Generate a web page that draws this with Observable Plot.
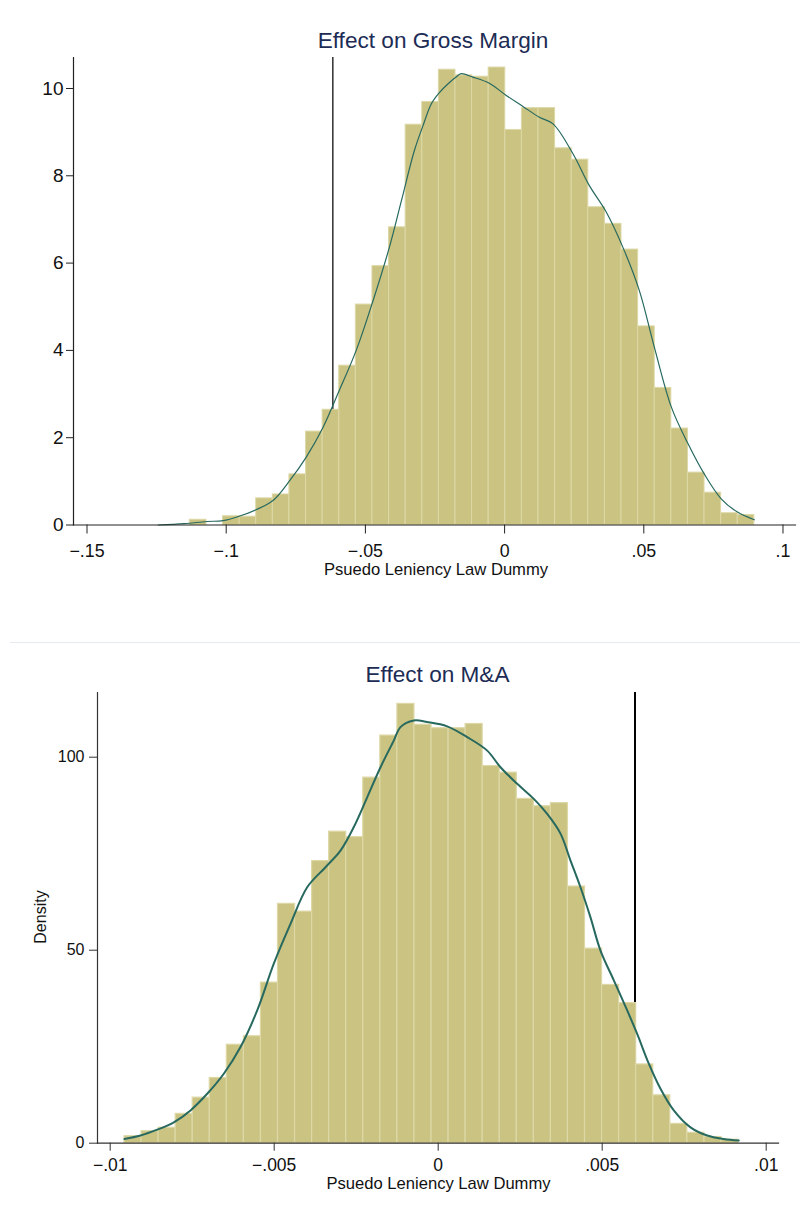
<!DOCTYPE html>
<html>
<head>
<meta charset="utf-8">
<script src="https://cdn.jsdelivr.net/npm/d3@7"></script>
<script src="https://cdn.jsdelivr.net/npm/@observablehq/plot@0.6"></script>
<style>
  html, body { margin: 0; padding: 0; background: #fff; }
  body { width: 800px; height: 1212px; position: relative; overflow: hidden;
         font-family: "Liberation Sans", Arial, sans-serif; }
  .abs { position: absolute; }
  .title { font-size: 22.6px; line-height: 22px; color: #1c2c55; white-space: nowrap; transform: translateX(-50%); }
  .xlab { font-size: 16.6px; line-height: 12px; color: #111; white-space: nowrap; transform: translateX(-50%); }
  .ylab { font-size: 16px; line-height: 16px; color: #111; white-space: nowrap; }
  .frame2 { border-top: 1px solid #e4ebee; }
</style>
</head>
<body>
<div id="p1" class="abs" style="left:0;top:0"></div>
<div id="p2" class="abs" style="left:0;top:600px"></div>
<div class="abs frame2" style="left:10px;top:642px;width:790px;height:0"></div>
<div class="abs title" style="left:433px;top:30px">Effect on Gross Margin</div>
<div class="abs xlab" style="left:436px;top:563.5px">Psuedo Leniency Law Dummy</div>
<div class="abs title" style="left:437.5px;top:664px">Effect on M&amp;A</div>
<div class="abs xlab" style="left:438.5px;top:1177.5px">Psuedo Leniency Law Dummy</div>
<div class="abs" style="left:41px;top:917px;width:0;height:0">
  <div class="ylab" style="position:absolute;left:0;top:0;transform:translate(-50%,-50%) rotate(-90deg)">Density</div>
</div>
<script>
// ---------- Panel 1: Effect on Gross Margin ----------
const gmBinStart = -0.11307;
const gmBinWidth = 0.005964;
const gmHeights = [0.12, 0, 0.2, 0.19, 0.61, 0.70, 1.16, 2.14, 2.64, 3.65, 5.05, 5.93, 6.82,
  9.17, 9.69, 10.43, 10.30, 10.27, 10.48, 9.05, 9.55, 9.55, 8.63, 8.37, 7.28, 6.90, 6.31,
  4.55, 3.14, 2.21, 1.20, 0.74, 0.27, 0.23];
const gmCurveX = [-0.1244, -0.1151, -0.1069, -0.1011, -0.0954, -0.0893, -0.0832, -0.0774,
  -0.0713, -0.0652, -0.0594, -0.0533, -0.0472, -0.0414, -0.0371, -0.0324, -0.0293, -0.0263,
  -0.0235, -0.0203, -0.0173, -0.0156, -0.0114, -0.0055, 0.0006, 0.0066, 0.0125, 0.0174,
  0.0246, 0.0304, 0.0365, 0.0425, 0.0484, 0.0538, 0.0599, 0.0659, 0.0717, 0.0778, 0.0838, 0.0897];
const gmCurveY = [0, 0.03, 0.08, 0.1, 0.2, 0.35, 0.56, 1.0, 1.55, 2.24, 3.08, 4.0, 5.15, 6.36,
  7.42, 8.58, 9.15, 9.65, 9.9, 10.11, 10.27, 10.34, 10.26, 10.12, 9.84, 9.59, 9.34, 9.19,
  8.5, 7.78, 7.17, 6.36, 5.37, 4.07, 2.7, 1.86, 1.17, 0.6, 0.29, 0.12];
const gmLine = -0.0617;
const gmXTicks = [-0.15, -0.1, -0.05, 0, 0.05, 0.1];
const gmYTicks = [0, 2, 4, 6, 8, 10];

// ---------- Panel 2: Effect on M&A ----------
const maBinStart = -0.009564;
const maBinWidth = 0.00052;
const maHeights = [1.8, 3.1, 4.0, 7.6, 11.8, 16.9, 25.5, 27.7, 41.6, 62.0, 60.0, 73.1, 80.7,
  79.3, 94.7, 105.6, 113.8, 108.4, 107.5, 107.5, 108.6, 97.7, 96.0, 89.2, 87.3, 88.1, 66.5,
  50.4, 41.0, 36.3, 20.4, 12.4, 5.0, 2.7, 1.6, 0.9];
const maCurveX = [-0.009564, -0.009076, -0.008567, -0.008061, -0.007552, -0.007043, -0.006537,
  -0.006027, -0.005518, -0.005012, -0.004503, -0.003994, -0.003436, -0.002979, -0.002573,
  -0.002165, -0.001759, -0.001354, -0.001149, -0.000744, -0.000335, 0.000274, 0.000884,
  0.001494, 0.001899, 0.002409, 0.002915, 0.003323, 0.003729, 0.004034, 0.004338, 0.004643,
  0.004948, 0.005354, 0.005762, 0.006067, 0.006421, 0.006777, 0.007183, 0.007692, 0.008201,
  0.008707, 0.009165];
const maCurveY = [1.1, 2.0, 3.5, 5.4, 8.5, 12.8, 18.0, 24.9, 34.4, 46.5, 56.8, 66.3, 71.5, 75.8,
  81.9, 89.6, 97.4, 104.3, 107.8, 109.5, 109.1, 108.0, 105.2, 101.7, 97.4, 93.1, 89.2, 85.3,
  80.2, 73.2, 66.3, 58.5, 49.9, 42.2, 34.4, 28.3, 20.6, 14.1, 8.5, 4.1, 2.0, 1.1, 0.7];
const maLine = 0.006;
const maXTicks = [-0.01, -0.005, 0, 0.005, 0.01];
const maYTicks = [0, 50, 100];

// ---------- helpers ----------
const stataFmt = d => d === 0 ? "0" :
  String(+d.toFixed(4)).replace(/^-0\./, "\u2212.").replace(/^0\./, ".");
const bins = (start, w, hs) => hs.map((h, i) => ({x1: start + i * w, x2: start + (i + 1) * w, h}));
const pts = (xs, ys) => xs.map((x, i) => ({x, y: ys[i]}));

const barFill = "#cac382";
const barStroke = "#ddd8a6";
const curveColor = "#27695f";
const font = "'Liberation Sans', Arial, sans-serif";

const p1 = Plot.plot({
  width: 800, height: 600,
  marginLeft: 73, marginRight: 5, marginTop: 57, marginBottom: 75.5,
  x: {domain: [-0.15485, 0.10449]},
  y: {domain: [0, 10.71]},
  style: {fontFamily: font, fontSize: "18px", color: "#111", background: "transparent"},
  marks: [
    Plot.ruleX([gmLine], {stroke: "#222", strokeWidth: 1.4}),
    Plot.rectY(bins(gmBinStart, gmBinWidth, gmHeights), {x1: "x1", x2: "x2", y: "h", fill: barFill, stroke: barStroke, strokeWidth: 1}),
    Plot.line(pts(gmCurveX, gmCurveY), {x: "x", y: "y", stroke: curveColor, strokeWidth: 1.2, curve: "catmull-rom"}),
    Plot.frame({anchor: "left", stroke: "#222", strokeWidth: 1.2}),
    Plot.frame({anchor: "bottom", stroke: "#222", strokeWidth: 1.2}),
    Plot.axisY({ticks: gmYTicks, tickFormat: stataFmt, tickSize: 7, tickPadding: 3, label: null, stroke: "#222", fontSize: 19}),
    Plot.axisX({ticks: gmXTicks, tickFormat: stataFmt, tickSize: 9, tickPadding: 10.5, label: null, stroke: "#222", fontSize: 17.8})
  ]
});
document.getElementById("p1").appendChild(p1);

const p2 = Plot.plot({
  width: 800, height: 612,
  marginLeft: 97, marginRight: 22, marginTop: 92, marginBottom: 69.3,
  x: {domain: [-0.010387, 0.010375]},
  y: {domain: [0, 116.76]},
  style: {fontFamily: font, fontSize: "16px", color: "#111", background: "transparent"},
  marks: [
    Plot.ruleX([maLine], {stroke: "#000", strokeWidth: 2}),
    Plot.rectY(bins(maBinStart, maBinWidth, maHeights), {x1: "x1", x2: "x2", y: "h", fill: barFill, stroke: barStroke, strokeWidth: 1.2}),
    Plot.line(pts(maCurveX, maCurveY), {x: "x", y: "y", stroke: curveColor, strokeWidth: 2, curve: "catmull-rom"}),
    Plot.frame({anchor: "left", stroke: "#333", strokeWidth: 1.2}),
    Plot.frame({anchor: "bottom", stroke: "#333", strokeWidth: 1.2}),
    Plot.axisY({ticks: maYTicks, tickFormat: stataFmt, tickSize: 8, tickPadding: 5, label: null, stroke: "#333"}),
    Plot.axisX({ticks: maXTicks, tickFormat: stataFmt, tickSize: 8, tickPadding: 7, label: null, stroke: "#333", fontSize: 17.5})
  ]
});
document.getElementById("p2").appendChild(p2);
</script>
</body>
</html>
